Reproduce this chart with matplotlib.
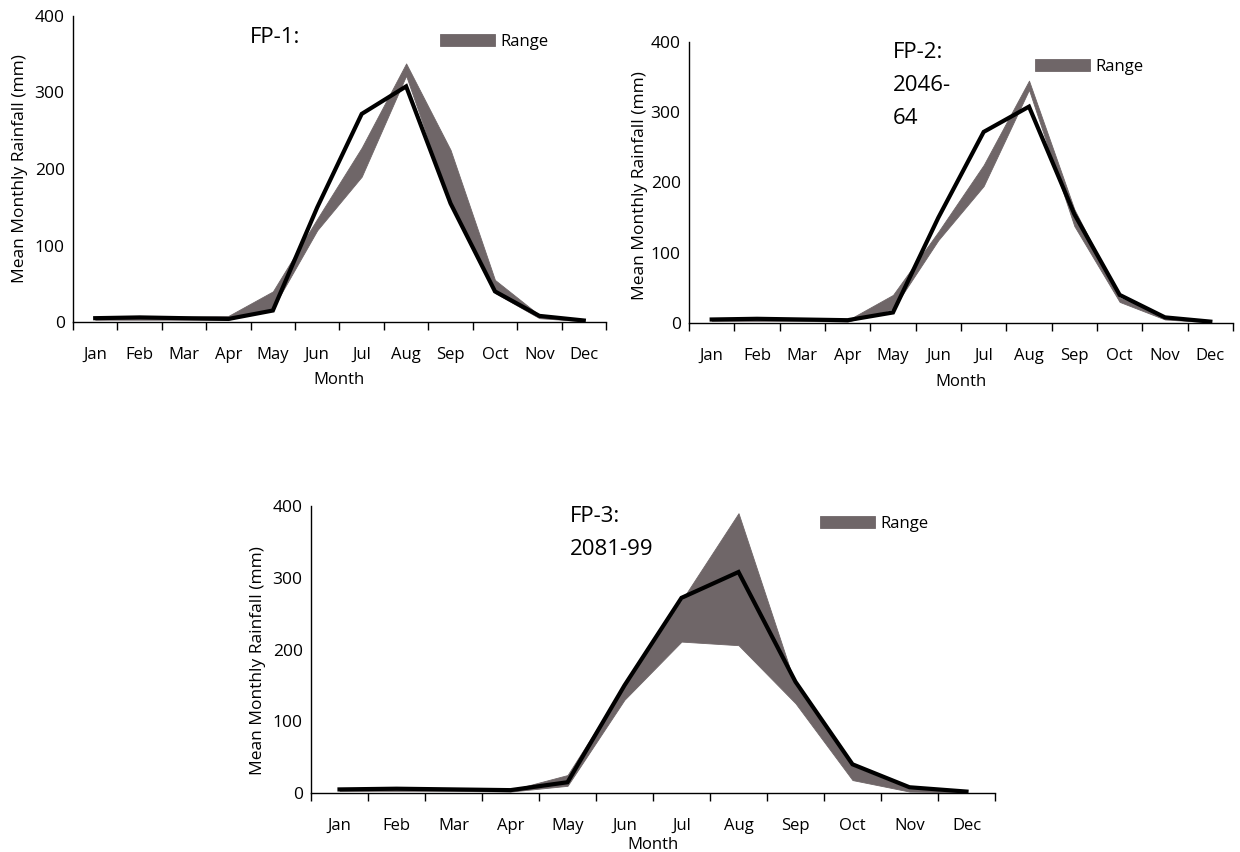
import numpy as np
import matplotlib
matplotlib.use("Agg")
from matplotlib import pyplot as plt

plt.rcParams['font.family'] = ['Open Sans', 'DejaVu Sans']

months = ['Jan', 'Feb', 'Mar', 'Apr', 'May', 'Jun', 'Jul', 'Aug', 'Sep', 'Oct', 'Nov', 'Dec']

# baseline mean monthly rainfall (black line), same in every panel
mean_rain = [5, 6, 5, 4, 15, 150, 272, 308, 155, 40, 8, 2]

# FP-1 range
fp1_low = [3, 3, 3, 3, 18, 120, 190, 322, 155, 38, 5, 1]
fp1_high = [7, 8, 7, 8, 40, 135, 228, 338, 225, 55, 9, 3]

# FP-2 range (2046-64)
fp2_low = [3, 3, 3, 2, 20, 118, 195, 332, 138, 30, 5, 1]
fp2_high = [7, 7, 6, 4, 40, 130, 225, 345, 162, 36, 10, 3]

# FP-3 range (2081-99)
fp3_low = [3, 3, 3, 2, 10, 130, 211, 206, 125, 18, 2, 1]
fp3_high = [7, 7, 6, 4, 25, 150, 268, 390, 150, 38, 6, 3]

panels = [
    ("FP-1:", fp1_low, fp1_high,
     [73/1240, 1-322/852, 533/1240, 306/852], (0.332, 0.965), (0.689, 0.915), (-0.085, 0.5), -0.165),
    ("FP-2:\n2046-\n64", fp2_low, fp2_high,
     [689/1240, 1-323/852, 544/1240, 281/852], (0.375, 1.0), (0.636, 0.911), (-0.075, 0.49), -0.18),
    ("FP-3:\n2081-99", fp3_low, fp3_high,
     [311/1240, 1-793/852, 684/1240, 287/852], (0.379, 1.0), (0.744, 0.937), (-0.066, 0.46), -0.152),
]

fig = plt.figure(figsize=(12.4, 8.52), dpi=100)

for title, low, high, rect, tpos, lpos, ylpos, xly in panels:
    ax = fig.add_axes(rect)
    x = np.arange(len(months))
    ax.fill_between(x, low, high, color='#6f6668', lw=0.6, label='Range')
    ax.plot(x, mean_rain, color='black', lw=3, solid_joinstyle='miter')

    ax.set_xlim(-0.5, 11.5)
    ax.set_ylim(0, 400)
    ax.set_yticks([0, 100, 200, 300, 400])
    ax.set_xticks(x)
    ax.set_xticklabels(months)
    ax.set_xticks(np.arange(-0.5, 12, 1), minor=True)
    ax.tick_params(axis='x', which='major', length=0, pad=18, labelsize=12)
    ax.tick_params(axis='x', which='minor', length=6, direction='out', width=1)
    ax.tick_params(axis='y', length=0, pad=6, labelsize=12.5)

    for s in ['top', 'right']:
        ax.spines[s].set_visible(False)
    ax.spines['left'].set_linewidth(1)
    ax.spines['bottom'].set_linewidth(1)

    ax.set_ylabel('Mean Monthly Rainfall (mm)', fontsize=12.5)
    ax.yaxis.set_label_coords(*ylpos)
    ax.set_xlabel('Month', fontsize=12)
    ax.xaxis.set_label_coords(0.5, xly)

    ax.text(tpos[0], tpos[1], title, transform=ax.transAxes, fontsize=16,
            va='top', ha='left', linespacing=1.75)

    ax.legend(loc='center left', bbox_to_anchor=lpos, frameon=False,
              handlelength=3.3, handleheight=0.7, borderpad=0, borderaxespad=0,
              handletextpad=0.3, fontsize=12)

fig.savefig('out.png', dpi=100)
